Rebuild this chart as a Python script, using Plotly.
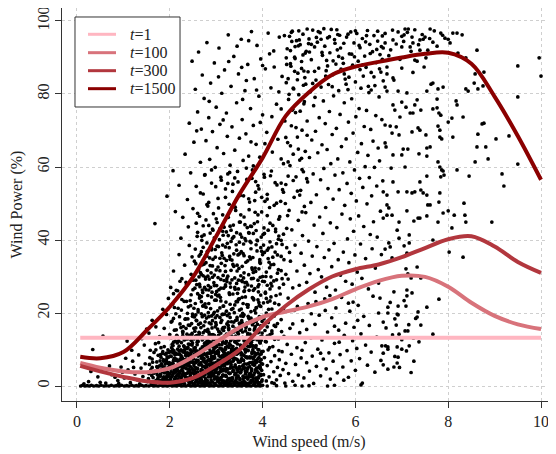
import plotly.graph_objects as go

# wind speed / power observations, typed as "speed,power" pairs, grouped by area of the plot
zero_row = """0.08,0 0.12,0.2 0.17,0 0.22,0.1 0.27,0 0.31,0.2 0.36,0 0.42,0.1 0.47,0 0.52,0.2 0.58,0 0.63,0.1
0.69,0 0.74,0.2 0.8,0 0.85,0.1 0.91,0 0.96,0.2 1.02,0 1.07,0.1 1.12,0 1.18,0.2 1.23,0 1.28,0.1 1.33,0
1.39,0.2 1.44,0 1.49,0.1 1.55,0 1.6,0.2 1.65,0 1.7,0.1 1.75,0 1.8,0.2 1.85,0 1.9,0.1 1.95,0 2.0,0.2
2.05,0 2.1,0.1 2.15,0 2.2,0.2 2.25,0 2.3,0.1 2.35,0 2.4,0.2 2.45,0 2.5,0.1 2.55,0 2.6,0.2 2.65,0
2.7,0.1 2.75,0 2.8,0.2 2.85,0 2.9,0.1 2.95,0 3.0,0.2 3.05,0 3.1,0.1 3.15,0 3.2,0.2 3.25,0 3.3,0.1
3.35,0 3.4,0.2 3.45,0 3.5,0.1 3.55,0 3.6,0.2 3.65,0 3.7,0.1 3.75,0 3.8,0.2 3.85,0 3.9,0.1 3.95,0
4.0,0.2 4.1,0 4.3,0.1 4.5,0 4.7,0.2 4.85,0 5.0,0.1 5.4,0 5.55,0.2 6.12,0.3"""

low_left = """0.34,10 0.56,13.7 1.08,12.3 1.5,15.6 0.25,1.2 0.45,2.5 0.62,0.8 0.75,3.1 0.88,1.5 0.95,5.2
1.02,2.2 1.1,4.4 1.15,0.9 1.2,6.8 1.25,3.3 1.3,1.7 1.33,8.5 1.38,4.9 1.42,2.6 1.45,11.2 1.47,6.1
0.7,5.5 0.82,2.4 1.05,7.6 1.18,9.8 0.3,4 0.15,0.6 0.5,1 1.35,0.6 1.4,13 1.22,5.1 0.98,3.8 0.9,0.7"""

blob_a = """1.52,1.2 1.55,3.4 1.57,7.8 1.6,0.8 1.62,5.1 1.64,2.3 1.66,9.2 1.68,4.0 1.7,1.5 1.72,6.6 1.73,3.1
1.75,8.4 1.77,0.9 1.78,5.5 1.8,2.7 1.81,10.5 1.83,4.6 1.85,1.8 1.86,7.2 1.88,3.6 1.89,0.7 1.9,6.0
1.92,2.2 1.93,9.0 1.95,4.9 1.96,1.1 1.97,7.9 1.98,3.0 1.99,5.8 1.54,2.0 1.59,4.4 1.63,6.5 1.67,1.0
1.71,3.9 1.74,2.0 1.79,6.9 1.82,1.3 1.84,8.9 1.87,5.2 1.91,3.8 1.94,1.6 1.69,11.6 1.58,9.8 1.76,11.9
1.61,2.9 1.65,0.6 1.87,2.5 1.93,6.7 1.77,4.2 1.56,5.9"""

blob_b = """2.01,1.3 2.02,4.7 2.03,8.1 2.04,2.6 2.05,11.4 2.06,0.8 2.07,6.2 2.08,3.5 2.09,9.6 2.1,1.9 2.11,5.1
2.12,12.3 2.13,0.7 2.14,7.4 2.15,2.9 2.16,4.2 2.17,10.1 2.18,1.4 2.19,6.8 2.2,3.7 2.21,8.8 2.22,0.9
2.23,5.6 2.24,2.3 2.25,11.9 2.26,4.5 2.27,7.7 2.28,1.2 2.29,9.3 2.3,3.2 2.31,6.1 2.32,0.6 2.33,12.8
2.34,4.9 2.35,2.0 2.36,8.4 2.37,5.7 2.38,1.5 2.39,10.6 2.4,3.9 2.41,7.0 2.42,0.8 2.43,4.3 2.44,9.9
2.45,2.6 2.46,6.5 2.47,1.1 2.48,11.2 2.49,3.6 2.5,8.0 2.02,6.0 2.04,9.4 2.06,3.0 2.08,12.0 2.1,7.6
2.12,2.1 2.14,5.3 2.16,0.9 2.18,8.7 2.2,10.9 2.22,4.0 2.24,6.7 2.26,1.6 2.28,5.0 2.3,11.0 2.32,2.8
2.34,7.3 2.36,3.4 2.38,9.1 2.4,6.0 2.42,2.2 2.44,5.4 2.46,12.5 2.48,4.8 2.05,5.2 2.09,1.0 2.13,9.0
2.17,3.1 2.21,6.3 2.25,2.4 2.29,7.2 2.33,1.5 2.37,10.4 2.41,4.6 2.45,8.6 2.49,1.8 2.03,3.9 2.11,8.6
2.19,12.4 2.27,3.1 2.35,5.9 2.43,7.8"""

blob_c = """2.51,2.1 2.52,5.5 2.53,9.8 2.54,0.7 2.55,13.6 2.56,3.6 2.57,7.1 2.58,1.4 2.59,11.3 2.6,4.8 2.61,8.2
2.62,0.9 2.63,6.0 2.64,14.4 2.65,2.7 2.66,10.1 2.67,4.1 2.68,7.6 2.69,1.2 2.7,12.6 2.71,5.3 2.72,3.0
2.73,9.0 2.74,0.6 2.75,6.6 2.76,13.2 2.77,2.0 2.78,8.5 2.79,4.4 2.8,11.1 2.81,1.5 2.82,7.0 2.83,3.5
2.84,14.8 2.85,5.9 2.86,0.8 2.87,9.6 2.88,2.5 2.89,12.0 2.9,4.7 2.91,7.8 2.92,1.1 2.93,10.7 2.94,3.3
2.95,6.3 2.96,13.9 2.97,0.7 2.98,8.9 2.99,5.0 3.0,2.2 2.51,7.4 2.53,3.2 2.55,10.5 2.57,4.9 2.59,1.8
2.61,12.2 2.63,2.4 2.65,8.8 2.67,0.8 2.69,5.7 2.71,9.9 2.73,2.6 2.75,11.7 2.77,5.0 2.79,1.0 2.81,8.0
2.83,13.4 2.85,3.1 2.87,6.1 2.89,1.7 2.91,4.0 2.93,14.1 2.95,2.9 2.97,9.2 2.99,11.6 2.52,12.9 2.56,6.4
2.6,2.9 2.64,9.4 2.68,4.5 2.72,6.9 2.76,3.9 2.8,0.7 2.84,10.3 2.88,7.2 2.92,5.4 2.96,1.9 2.54,4.2
2.58,8.9 2.62,13.8 2.66,1.6 2.7,3.7 2.74,11.0 2.78,6.2 2.82,12.5 2.86,4.3 2.9,9.1 2.94,7.5 2.98,3.8
2.6,6.8 2.7,8.3 2.8,5.6 2.9,2.8 2.55,1.0 2.75,1.3 2.85,12.1 2.95,10.0"""

blob_d = """3.01,4.6 3.02,8.9 3.03,1.2 3.04,12.7 3.05,3.3 3.06,6.7 3.07,0.8 3.08,10.4 3.09,5.1 3.1,14.5 3.11,2.4
3.12,7.9 3.13,1.0 3.14,11.8 3.15,4.2 3.16,9.3 3.17,0.6 3.18,6.0 3.19,13.1 3.2,2.9 3.21,8.4 3.22,4.8
3.23,1.5 3.24,10.9 3.25,6.5 3.26,3.6 3.27,14.0 3.28,0.9 3.29,7.4 3.3,2.1 3.31,11.2 3.32,5.4 3.33,9.7
3.34,1.3 3.35,12.9 3.36,4.0 3.37,7.0 3.38,0.7 3.39,10.0 3.4,3.1 3.41,5.8 3.42,13.7 3.43,1.8 3.44,8.7
3.45,4.5 3.46,11.5 3.47,2.6 3.48,6.9 3.49,0.8 3.5,9.5 3.01,10.8 3.03,6.2 3.05,13.9 3.07,3.8 3.09,8.0
3.11,1.7 3.13,5.6 3.15,12.0 3.17,2.8 3.19,9.0 3.21,4.1 3.23,7.6 3.25,0.7 3.27,10.6 3.29,3.4 3.31,6.4
3.33,14.6 3.35,2.0 3.37,8.8 3.39,5.2 3.41,1.1 3.43,11.9 3.45,7.3 3.47,3.9 3.49,12.6 3.02,2.5 3.06,11.4
3.1,6.9 3.14,3.0 3.18,9.9 3.22,12.2 3.26,1.9 3.3,8.1 3.34,5.0 3.38,13.2 3.42,3.5 3.46,9.8 3.5,5.3
3.04,7.1 3.08,2.0 3.12,10.2 3.16,4.7 3.2,11.7 3.24,6.1 3.28,8.9 3.32,1.6 3.36,10.8 3.4,7.5 3.44,2.3
3.48,4.6 3.1,4.4 3.2,6.8 3.3,4.9 3.4,9.0 3.05,1.4 3.25,13.5 3.35,7.8 3.45,0.9"""

blob_e = """3.51,2.0 3.52,6.6 3.53,11.0 3.54,0.8 3.55,4.4 3.56,8.5 3.57,13.3 3.58,2.7 3.59,7.0 3.6,1.3 3.61,10.2
3.62,5.0 3.63,3.3 3.64,12.1 3.65,0.7 3.66,8.0 3.67,4.6 3.68,1.9 3.69,9.7 3.7,6.2 3.71,13.9 3.72,2.5
3.73,7.7 3.74,0.9 3.75,11.4 3.76,4.1 3.77,8.9 3.78,1.5 3.79,5.9 3.8,12.8 3.81,3.0 3.82,9.2 3.83,0.6
3.84,6.8 3.85,10.6 3.86,2.2 3.87,4.9 3.88,13.0 3.89,1.0 3.9,7.5 3.91,3.6 3.92,9.9 3.93,5.5 3.94,0.8
3.95,11.8 3.96,2.9 3.97,7.2 3.98,4.3 3.99,1.7 3.52,3.6 3.54,9.1 3.56,1.1 3.58,5.7 3.6,12.4 3.62,2.3
3.64,7.9 3.66,4.0 3.68,10.9 3.7,0.8 3.72,5.3 3.74,3.4 3.76,12.0 3.78,6.5 3.8,2.1 3.82,8.0 3.84,4.4
3.86,11.1 3.88,1.6 3.9,5.0 3.92,2.7 3.94,8.6 3.96,13.5 3.98,6.1 3.55,7.5 3.63,9.3 3.71,3.0 3.79,10.0
3.87,7.0 3.95,4.8 3.57,0.9 3.67,13.1 3.77,2.6 3.85,1.3 3.93,12.4 3.59,4.8 3.73,11.9 3.83,5.9 3.91,0.9"""

blob_f = """1.80,3.2 1.81,7.9 1.82,0.5 1.83,5.6 1.85,9.4 1.86,2.1 1.87,6.8 1.88,1.4 1.9,8.7 1.91,4.3 1.92,0.9
1.93,7.2 1.95,3.8 1.96,9.9 1.97,2.6 1.98,5.1 2.0,1.7 2.01,8.2 2.02,4.9 2.03,0.4 2.05,6.3 2.06,3.0
2.07,9.1 2.08,1.2 2.1,7.6 2.11,5.4 2.12,2.4 2.13,8.9 2.15,0.7 2.16,4.6 2.17,6.9 2.18,1.9 2.2,9.6
2.21,3.5 2.22,5.9 2.23,0.6 2.25,8.0 2.26,2.8 2.27,7.1 2.28,4.0 2.3,0.8 2.31,6.0 2.32,3.3 2.33,9.2
2.35,1.6 2.36,7.4 2.37,4.7 2.38,2.2 2.4,8.5 2.41,5.7 2.42,1.0 2.43,6.6 2.45,3.6 2.46,9.8 2.47,2.0
2.48,7.8 2.5,4.4 2.51,0.5 2.52,6.1 2.53,8.8 2.55,2.9 2.56,5.0 2.57,1.3 2.58,9.3 2.6,3.9 2.61,7.0
2.62,0.9 2.63,5.8 2.65,8.4 2.66,2.3 2.67,6.4 2.68,1.8 2.7,9.7 2.71,4.2 2.72,7.5 2.73,0.6 2.75,5.3
2.76,3.1 2.77,8.6 2.78,1.5 2.8,6.7 2.81,4.8 2.82,9.0 2.83,2.5 2.85,7.3 2.86,0.8 2.87,5.5 2.88,3.4
2.9,8.1 2.91,1.1 2.92,6.2 2.93,9.5 2.95,2.7 2.96,4.5 2.97,7.7 2.98,0.4 3.0,6.5 3.01,3.7 3.02,9.4
3.03,1.6 3.05,5.2 3.06,8.3 3.07,2.1 3.08,7.0 3.1,0.7 3.11,4.1 3.12,6.0 3.13,9.8 3.15,3.0 3.16,1.4
3.17,7.9 3.18,5.6 3.2,0.9 3.21,8.7 3.22,2.6 3.23,6.3 3.25,4.6 3.26,9.1 3.27,1.9 3.28,7.2 3.3,3.5
3.31,0.5 3.32,5.9 3.33,8.2 3.35,2.3 3.36,6.8 3.37,4.3 3.38,9.6 3.4,1.2 3.41,7.5 3.42,3.1 3.43,5.1
3.45,0.8 3.46,8.9 3.47,2.8 3.48,6.6 3.5,4.9 3.51,1.7 3.52,9.2 3.53,3.8 3.55,7.1 3.56,0.6 3.57,5.4
3.58,2.0 3.6,8.4 3.61,6.1 3.62,1.0 3.63,4.0 3.65,9.9 3.66,2.5 3.67,7.7 3.68,5.0 3.7,0.4 3.71,3.3
3.72,8.0 3.73,6.4 3.75,1.5 3.76,4.7 3.77,9.3 3.78,2.9 3.8,7.4 3.81,0.9 3.82,5.7 3.83,3.6 3.85,8.6
3.86,1.8 3.87,6.5 3.88,4.1 3.9,9.0 3.91,2.2 3.92,7.8 3.93,0.7 3.95,5.2 3.96,3.2 3.97,8.8 3.98,1.3
4.0,6.0 1.84,1.1 1.89,5.0 1.94,2.9 1.99,6.4 2.04,0.9 2.09,4.1 2.14,7.0 2.19,2.7 2.24,5.5 2.29,1.5
2.34,8.4 2.39,3.6 2.44,0.8 2.49,6.6 2.54,2.0 2.59,4.8 2.64,9.1 2.69,3.2 2.74,6.9 2.79,0.5 2.84,4.3
2.89,7.1"""

blob_g = """2.0,9.4 2.03,13.2 2.05,17.8 2.07,11.1 2.1,21.5 2.12,8.6 2.14,15.4 2.17,26.1 2.19,12.3 2.21,19.0
2.24,9.9 2.26,23.7 2.28,14.6 2.31,10.8 2.33,18.3 2.35,28.4 2.38,12.9 2.4,16.7 2.42,8.4 2.45,22.0
2.47,14.0 2.49,19.7 2.52,10.4 2.54,26.8 2.56,15.9 2.59,12.0 2.61,20.9 2.63,9.1 2.66,17.2 2.68,24.5
2.7,13.5 2.73,10.0 2.75,19.4 2.77,29.3 2.8,15.0 2.82,11.7 2.84,22.6 2.87,8.9 2.89,17.0 2.91,25.7
2.94,12.7 2.96,20.2 2.98,10.6 3.01,27.5 3.03,15.6 3.05,9.2 3.08,18.8 3.1,23.3 3.12,11.3 3.15,16.0
3.17,28.9 3.19,13.1 3.22,20.5 3.24,8.7 3.26,17.6 3.29,25.1 3.31,12.4 3.33,10.2 3.36,21.2 3.38,14.8
3.4,27.0 3.43,9.6 3.45,18.1 3.47,12.6 3.5,23.9 3.52,15.3 3.54,8.5 3.57,19.9 3.59,29.6 3.61,11.5
3.64,16.4 3.66,22.3 3.68,9.8 3.71,26.2 3.73,14.2 3.75,18.6 3.78,10.9 3.8,24.0 3.82,13.8 3.85,20.0
3.87,8.8 3.89,16.9 3.92,27.8 3.94,11.9 3.96,21.8 3.99,14.5 4.01,9.5 4.03,18.4 4.06,25.4 4.08,12.1
4.1,16.2 4.13,21.0 4.15,10.5 4.18,28.1 4.2,15.1 4.23,19.3 4.26,12.8 4.29,24.8 4.32,17.1 4.35,9.7
4.38,20.6 4.41,14.9 2.08,25.3 2.22,28.7 2.36,23.2 2.5,29.0 2.64,27.9 2.78,26.4 2.92,29.8 3.06,24.9
3.2,27.7 3.34,29.1 3.48,26.6 3.62,28.3 3.76,29.4 3.9,23.6 4.04,28.6 4.18,24.4 2.15,13.9 2.29,16.3
2.43,11.4 2.57,18.0 2.71,21.9 2.85,14.3 2.99,17.4 3.13,19.6 3.27,15.8 3.41,12.2 3.55,17.9 3.69,19.1
3.83,15.7 3.97,12.5 4.11,23.0 4.25,16.6 2.6,13.0 2.9,19.2 3.2,10.1 3.5,20.8 3.8,17.3 4.1,13.7"""

blob_h = """2.31,12.6 2.33,7.1 2.35,15.8 2.37,10.2 2.39,18.4 2.41,5.6 2.43,13.9 2.45,9.0 2.47,17.1 2.49,11.8
2.52,6.4 2.54,15.0 2.56,19.5 2.58,9.6 2.6,12.3 2.62,16.9 2.64,5.9 2.66,13.3 2.68,19.8 2.7,10.7
2.72,14.6 2.74,7.5 2.76,17.6 2.78,12.0 2.8,8.9 2.82,15.5 2.84,19.0 2.86,10.9 2.88,6.9 2.9,14.0
2.92,17.9 2.94,11.5 2.96,8.1 2.98,16.2 3.0,12.9 3.02,19.3 3.04,9.7 3.06,14.9 3.08,6.3 3.1,17.4
3.12,12.5 3.14,8.4 3.16,15.2 3.18,19.7 3.2,10.5 3.22,14.2 3.24,7.0 3.26,16.6 3.28,11.6 3.3,18.8
3.32,9.2 3.34,13.6 3.36,16.4 3.38,7.7 3.4,12.1 3.42,18.0 3.44,10.3 3.46,14.7 3.48,6.6 3.5,17.2
3.52,11.2 3.54,15.6 3.56,8.7 3.58,19.1 3.6,13.0 3.62,9.9 3.64,16.0 3.66,6.0 3.68,14.4 3.7,18.6
3.72,10.8 3.74,13.8 3.76,7.9 3.78,16.8 3.8,11.0 3.82,15.3 3.84,8.5 3.86,17.7 3.88,12.7 3.9,10.0
3.92,14.8 3.94,6.7 3.96,16.5 3.98,9.4 4.0,13.4 1.72,5.3 1.76,2.7 1.8,8.6 1.84,3.9 1.88,10.8 1.92,1.9
1.96,6.2 2.0,3.4 2.04,10.5 2.08,7.0 2.12,3.8 2.16,11.8 2.2,5.3 2.24,8.4 2.28,1.0 2.32,10.0 2.36,6.4
2.4,11.5 2.44,3.0 2.48,9.5 1.62,7.4 1.66,3.5 1.7,9.9 1.74,5.0 1.78,1.6 1.82,6.1 1.86,4.0 1.9,2.3
1.94,8.0 1.98,9.2 2.02,2.0 2.06,10.0 2.1,4.5 2.14,1.2 2.18,5.8 2.22,7.4 2.26,9.6 2.3,5.4 2.34,2.5
2.38,6.9"""

mid_low = """1.55,14.5 1.62,18 1.7,16.2 1.78,13.5 1.85,21 1.88,15.8 1.93,19.6 1.97,24 2.0,14.1 2.03,17.5 2.06,22.4
2.1,15.3 2.13,19.8 2.16,13.6 2.19,24.6 2.22,17 2.25,20.8 2.28,15 2.31,23.2 2.34,18.4 2.37,14.2 2.4,21.7
2.43,16.6 2.46,25 2.49,19.1 2.52,15.8 2.55,22.6 2.58,17.9 2.61,20.3 2.64,24.1 2.67,16 2.7,19 2.73,22
2.76,15.2 2.79,18.6 2.82,24.8 2.85,17.3 2.88,21.2 2.91,15.9 2.94,19.7 2.97,23.5 3.0,16.8 3.03,20.6
3.06,14.9 3.09,24.3 3.12,18 3.15,21.9 3.18,16.1 3.21,23 3.24,19.3 3.27,15.4 3.3,22.4 3.33,17.6 3.36,25.2
3.39,20.1 3.42,15.7 3.45,18.8 3.48,23.8 3.51,16.9 3.54,21.1 3.57,14.8 3.6,19.5 3.63,24.4 3.66,17.2
3.69,22.2 3.72,15.5 3.75,20.4 3.78,18 3.81,23.6 3.84,16.3 3.87,21.5 3.9,14.6 3.93,19 3.96,24.9 3.99,17.7
4.02,22.8 4.05,15.2 4.08,20 4.12,17.4 4.16,23.3 4.2,14.4 4.25,19.2 2.08,18.5 2.18,21.3 2.28,13.8
2.38,19.9 2.48,14.4 2.58,13.8 2.68,23.1 2.78,21.6 2.88,13.9 2.98,18.7 3.08,21.4 3.18,13.7 3.28,19.8
3.38,17.5 3.48,14.3 3.58,22.6 3.68,13.9 3.78,24.2 3.88,18.2 3.98,13.5 2.53,18.9 2.63,14.7 2.73,16.5
2.83,20.1 2.93,13.4 3.03,24.7 3.13,15.6 3.23,17 3.33,21 3.43,23.1 3.53,19.2 3.63,15.1 3.73,17.9
3.83,20.7 3.93,22.1 2.24,16 2.44,23.4 2.72,13.2 3.14,19.6 3.56,17.3"""

mid = """2.02,27 2.08,31.5 2.14,26.2 2.2,36 2.26,29.4 2.32,33.1 2.36,27.8 2.42,38.5 2.46,30.6 2.5,26.4 2.53,34.2
2.56,29 2.59,41 2.62,31.9 2.65,27.2 2.68,36.8 2.71,25.6 2.74,33.4 2.77,29.8 2.8,39.2 2.83,27.5 2.86,35.1
2.89,31 2.92,43 2.95,28.3 2.98,37.4 3.01,25.9 3.04,32.6 3.07,40.1 3.1,29.2 3.13,35.8 3.16,26.8 3.19,33
3.22,42.2 3.25,30.1 3.28,37.9 3.31,27.1 3.34,34.5 3.37,44.1 3.4,29.6 3.43,38.7 3.46,25.4 3.49,32.2
3.52,41.6 3.55,28.9 3.58,36.3 3.61,26.1 3.64,33.9 3.67,43.4 3.7,30.5 3.73,39.6 3.76,27.4 3.79,35.2
3.82,44.5 3.85,31.4 3.88,37 3.91,25.8 3.94,34 3.97,40.8 4.0,28.7 4.04,36.6 4.08,31.2 4.12,42.7 4.16,26.6
4.2,38.1 4.24,33.3 4.3,29.1 4.35,41.1 4.4,35.5 4.45,27.9 2.55,37.5 2.6,25.3 2.66,31.1 2.72,43.9
2.78,33.8 2.84,26.3 2.9,37.7 2.96,30.4 3.02,44.8 3.08,35 3.14,38.6 3.2,27.3 3.26,41.2 3.32,31.7
3.38,36.2 3.44,28.1 3.5,39.4 3.56,32.8 3.62,44.2 3.68,27.7 3.74,34.8 3.8,29.5 3.86,42.6 3.92,32.1
3.98,36.9 4.06,25.7 4.14,33.9 4.22,44 4.32,30.9 4.42,38.8 2.63,29.9 2.69,39.9 2.75,27 2.81,31.7
2.87,41.9 2.93,34.7 2.99,25.1 3.05,38.2 3.11,33.6 3.17,43.5 3.23,28.6 3.29,35.5 3.35,40.5 3.41,26.5
3.47,35.9 3.53,30.2 3.59,38.9 3.65,28.4 3.71,41.9 3.77,32.4 3.83,26.7 3.89,39.8 3.95,29.8 4.03,43.3
4.1,37.2 4.18,29.9 4.27,36.7 4.38,25.2 2.24,40.5 2.4,43.6 2.48,35.4 2.57,44.6 2.7,33.2 2.85,29.3
3.0,31.8 3.15,30.3 3.3,43.8 3.45,33.1 3.6,35.7 3.75,37.6 3.9,27.2"""

mid_b = """2.6,47.3 2.63,35.6 2.66,52.9 2.69,41.0 2.72,30.2 2.75,57.8 2.78,45.5 2.81,36.9 2.84,50.3 2.87,33.0
2.9,59.2 2.93,42.7 2.96,27.5 2.99,54.6 3.02,38.3 3.05,48.8 3.08,31.6 3.11,56.4 3.14,44.1 3.17,35.0
3.2,51.7 3.23,29.4 3.26,46.2 3.29,58.5 3.32,39.6 3.35,53.3 3.38,32.8 3.41,49.0 3.44,42.0 3.47,55.9
3.5,36.2 3.53,46.9 3.56,28.6 3.59,52.1 3.62,40.4 3.65,59.7 3.68,34.3 3.71,48.3 3.74,43.8 3.77,56.9
3.8,31.1 3.83,50.8 3.86,38.7 3.89,45.0 3.92,54.0 3.95,33.6 3.98,47.7 4.01,41.5 4.04,57.2 4.07,30.0
4.1,52.5 4.13,37.8 4.16,44.6 4.19,58.9 4.22,35.3 4.25,49.5 4.28,42.3 4.31,55.1 4.34,31.9 4.37,46.4
4.4,39.9 4.43,53.8 4.46,34.6 4.49,50.0 4.52,43.2 4.55,57.5 4.58,36.6 2.7,26.3 2.8,49.7 2.9,37.3
3.0,45.8 3.1,26.8 3.2,38.1 3.3,34.7 3.4,57.0 3.5,44.9 3.6,25.9 3.7,51.3 3.8,41.8 3.9,29.0 4.0,36.0
4.1,46.7 4.2,27.4 4.3,39.0 4.4,55.6 4.5,30.6 3.15,41.3 3.45,31.5 3.75,39.3 4.05,50.6 4.35,45.7
3.25,55.5 3.55,40.8 3.85,53.1 4.15,32.4 4.45,41.6"""

mid_c = """2.52,21.3 2.56,33.5 2.6,42.1 2.64,24.8 2.68,30.6 2.72,38.0 2.76,22.5 2.8,35.6 2.84,44.0 2.88,27.0
2.92,32.9 2.96,40.6 3.0,23.5 3.04,29.7 3.08,43.1 3.12,36.5 3.16,21.9 3.2,31.4 3.24,39.1 3.28,25.5
3.32,42.7 3.36,33.3 3.4,22.2 3.44,37.2 3.48,29.0 3.52,44.9 3.56,24.3 3.6,31.0 3.64,39.8 3.68,21.6
3.72,35.4 3.76,43.7 3.8,26.2 3.84,32.3 3.88,40.0 3.92,22.9 3.96,37.9 4.0,30.0 4.04,41.8 4.08,24.0
4.12,34.9 4.16,39.5 4.2,21.1 4.24,28.8 4.28,43.0 4.32,35.9 4.36,26.9 4.4,31.6 2.58,27.8 2.66,36.1
2.74,41.4 2.82,30.1 2.9,24.4 2.98,35.3 3.06,26.4 3.14,42.4 3.22,34.4 3.3,28.2 3.38,40.9 3.46,23.1
3.54,36.8 3.62,27.1 3.7,42.0 3.78,31.9 3.86,21.4 3.94,34.6 4.02,38.6 4.1,27.6 4.18,33.2 4.26,22.7
4.34,40.2 4.42,29.4"""

upper_left = """1.68,44.5 1.94,52 2.07,59 2.12,47.8 2.2,55 2.28,46.2 2.33,63.5 2.38,51.1 2.42,72 2.45,58.4 2.48,89
2.5,48.6 2.52,66.8 2.55,81.3 2.57,54.7 2.6,75.1 2.62,91.5 2.64,46.5 2.66,61.3 2.68,70.4 2.7,85.2
2.72,52.6 2.74,78.8 2.76,57.9 2.78,67.2 2.8,94.1 2.82,49.3 2.84,73.5 2.86,62.1 2.88,83 2.9,55.6
2.92,69.7 2.94,47.2 2.96,88.5 2.98,59.9 3.0,76.4 3.02,65.3 3.04,51.4 3.06,92.6 3.08,71.7 3.1,57.2
3.12,80.2 3.14,46.9 3.16,63.7 3.18,86.6 3.2,54 3.22,74.8 3.24,68.4 3.26,96.2 3.28,49.8 3.3,60.5
3.32,82.1 3.34,71 3.36,55.3 3.38,90.3 3.4,64.6 3.42,48.1 3.44,77.6 3.46,58.8 3.48,85.5 3.5,67.9
3.52,52.2 3.54,95 3.56,73 3.58,61.8 3.6,46.3 3.62,80.9 3.64,69.1 3.66,56.6 3.68,88.1 3.7,63 3.72,50.4
3.74,76 3.76,97.1 3.78,59.2 3.8,71.4 3.82,84.2 3.84,47.6 3.86,66.2 3.88,93.3 3.9,54.9 3.92,79.4
3.94,62.7 3.96,89.6 3.98,51.7 4.0,74.3 4.03,58 4.06,86.9 4.09,69.5 4.12,96.7 4.15,48.9 4.18,81.7
4.21,64.1 4.24,91.8 4.27,55.7 4.3,77.2 4.33,67.6 4.36,95.6 4.39,50.6 4.42,84.8 4.45,60.9 4.48,72.6
4.51,89.9 4.54,46.7 4.57,79.9 4.6,65.8 4.63,94.4 4.66,56.3 4.69,86.2 4.72,70.8 4.75,53.4 4.78,97.3
4.81,75.3 4.84,62.4 4.87,90.7 4.9,49.2 4.93,82.7 4.96,68.7 4.99,93.8 2.58,69.9 2.85,78 3.05,84.7
3.25,58.1 3.45,93.1 3.65,83.7 3.85,56 4.05,66.4 4.25,87.4 4.45,53.1 4.65,75.8 4.85,59.3 3.15,72.9
3.35,49.1 3.55,87.3 3.75,66.9 3.95,72.2 4.15,91 4.35,80.6 4.55,61.4 4.75,83.9 4.95,56.8 3.27,88.9
3.57,78.5 3.87,81.1 4.17,57.6 4.47,96 4.77,64.9 4.2,73.8 4.4,62.2 4.6,88.3 4.8,52.3 4.1,51.2 4.5,68.1
4.9,77.9 3.7,94.6 3.9,46.9 4.3,50.1 4.7,93 3.8,60.3 4.0,87.8 4.4,75.9 4.85,47.7"""

low_right = """4.02,3.1 4.04,7.8 4.06,12.2 4.08,1.4 4.1,5.6 4.12,9.9 4.14,2.5 4.16,14.1 4.18,6.7 4.2,0.9 4.22,10.8
4.24,3.9 4.26,8.3 4.28,16.3 4.3,1.7 4.32,5.1 4.34,12.9 4.36,7.2 4.38,2.9 4.4,18.2 4.42,9.4 4.44,4.5
4.46,13.6 4.48,0.8 4.5,6.2 4.53,11.4 4.56,3.4 4.59,15.8 4.62,8.7 4.65,1.3 4.68,20.7 4.71,5.9 4.74,10.5
4.77,3 4.8,14.6 4.83,7.7 4.86,17.9 4.89,2.2 4.92,11.9 4.95,6.4 4.98,22.6 5.01,4.1 5.04,13.2 5.07,8.2
5.1,0.7 5.13,16.9 5.16,5.4 5.19,10.1 5.22,19.4 5.25,2.8 5.28,12.6 5.31,7.4 5.34,23.9 5.37,4.7 5.4,14.8
5.43,9.1 5.46,1.9 5.49,18.7 5.52,6.8 5.55,11.7 5.58,21.4 5.61,3.6 5.64,15.3 5.67,8.6 5.7,24.3 5.73,5.2
5.76,13.9 5.79,17.2 5.82,9.7 5.85,2.4 5.88,20.5 5.91,6.9 5.94,12.4 5.97,16.1 6.0,4.3 6.03,10.3 6.06,22.1
6.09,7.5 6.12,14.3 6.15,0.8 6.18,19.1 6.22,11.2 6.26,5.7 6.3,16.6 6.34,9.3 6.38,24.6 6.42,3.8 6.46,13.4
6.5,20 6.55,7 6.6,17.5 6.65,11 6.7,4.6 6.75,22.9 6.8,14 6.85,8.1 6.9,19.7 6.95,5.1 7.0,12.7 7.05,23.4
7.1,9.6 7.15,16.8 7.2,3.7 7.25,13.1 7.3,18.5 4.15,19.5 4.35,22.3 4.55,24.1 4.75,21.8 4.95,15.5
5.15,23.1 5.35,20.7 5.55,16.4 5.75,1.6 5.95,23 4.25,0.7 4.45,21.2 4.65,17 4.85,9.8 5.05,19.8 5.25,9
5.45,24.8 5.65,12 5.85,22.7 6.05,18"""

upper_mid = """4.50,55.2 4.51,83.1 4.52,37.9 4.53,92.4 4.54,66.7 4.55,29.3 4.56,78.5 4.57,48.1 4.58,95.8 4.59,60.4
4.60,34.2 4.61,87.6 4.62,71.3 4.63,42.8 4.64,97.2 4.65,26.9 4.66,63.5 4.67,81.4 4.68,51.7 4.69,90.1
4.70,38.6 4.71,74.9 4.72,57.3 4.73,94.6 4.74,31.5 4.75,68.2 4.76,85.7 4.77,45.4 4.78,79.8 4.79,27.6
4.80,61.9 4.81,93.5 4.82,53.6 4.83,36.4 4.84,88.9 4.85,70.1 4.86,41.2 4.87,96.4 4.88,58.7 4.89,77.3
4.90,33.1 4.91,84.5 4.92,64.3 4.93,47.5 4.94,91.7 4.95,28.4 4.96,72.6 4.97,55.9 4.98,86.1 4.99,39.7
5.00,95.1 5.01,62.6 5.02,30.8 5.03,80.6 5.04,50.3 5.05,89.4 5.06,67.4 5.07,35.6 5.08,97.5 5.09,58.1
5.10,76.8 5.11,44.1 5.12,92.9 5.13,25.7 5.14,69.8 5.15,83.8 5.16,52.4 5.17,38.2 5.18,94.2 5.19,63.9
5.20,31.9 5.21,87.1 5.22,73.5 5.23,46.3 5.24,96.8 5.25,56.5 5.26,81.9 5.27,29.9 5.28,66.1 5.29,90.6
5.30,41.8 5.31,78.1 5.32,59.6 5.33,35.2 5.34,93.1 5.35,71.9 5.36,48.9 5.37,86.4 5.38,27.1 5.39,64.8
5.40,95.4 5.41,54.1 5.42,82.6 5.43,37.3 5.44,75.2 5.45,91.3 5.46,44.7 5.47,60.9 5.48,97.7 5.49,32.7
5.50,68.9 5.51,85.3 5.52,51.2 5.53,79.5 5.54,39.1 5.55,94.9 5.56,57.8 5.57,26.3 5.58,88.2 5.59,70.6
5.60,43.4 5.61,92.1 5.62,62.2 5.63,34.6 5.64,80.9 5.65,53.8 5.66,96.1 5.67,74.4 5.68,30.4 5.69,86.8
5.70,65.6 5.71,47.1 5.72,89.8 5.73,58.4 5.74,36.7 5.75,93.9 5.76,77.6 5.77,49.5 5.78,84.1 5.79,28.7
5.80,67.7 5.81,95.6 5.82,55.5 5.83,40.3 5.84,81.2 5.85,72.3 5.86,33.8 5.87,91.0 5.88,61.4 5.89,45.8
5.90,97.0 5.91,52.8 5.92,78.7 5.93,27.9 5.94,87.9 5.95,69.3 5.96,42.4 5.97,94.0 5.98,59.2 5.99,35.9
6.00,83.3 6.01,73.8 6.02,50.7 6.03,96.6 6.04,31.2 6.05,64.0 6.06,89.0 6.07,46.6 6.08,76.0 6.09,56.9
6.10,92.7 6.11,38.9 6.12,81.6 6.13,66.4 6.14,29.5 6.15,95.2 6.16,54.4 6.17,84.9 6.18,43.7 6.19,71.1
6.20,90.4 6.21,60.1 6.22,34.9 6.23,87.3 6.24,75.5 6.25,49.9 6.26,97.4 6.27,63.2 6.28,26.6 6.29,80.4
6.30,57.1 6.31,93.6 6.32,41.5 6.33,70.3 6.34,85.9 6.35,52.1 6.36,37.6 6.37,91.6 6.38,67.1 6.39,45.0
6.40,96.0 6.41,59.9 6.42,82.3 6.43,32.3 6.44,74.1 6.45,88.6 6.46,54.8 6.47,40.8 6.48,94.5 6.49,65.2
6.50,28.2 6.51,79.2 6.52,61.7 6.53,90.8 6.54,47.9 6.55,86.0 6.56,36.0 6.57,73.0 6.58,95.9 6.59,56.2
6.60,83.6 4.52,88.1 4.64,75.6 4.77,93.2 4.89,86.3 5.01,91.5 5.13,79.1 5.26,95.0 5.38,89.2 5.50,82.0
5.62,96.3 5.74,88.4 5.86,84.6 5.98,90.2 6.10,86.7 6.22,94.3 6.34,81.1 6.46,92.2 6.58,89.5"""

upper_band = """4.55,84.2 4.62,96.9 4.7,89.7 4.79,94.8 4.88,82.4 4.96,97.8 5.05,93.6 5.12,86.2 5.2,97.1 5.28,91.4
5.36,84.9 5.44,95.7 5.52,89.1 5.6,97.6 5.68,92.6 5.76,85.5 5.84,96.4 5.92,90.9 6.0,97.3 6.08,93.3
6.16,88.0 6.24,96.0 6.32,91.1 6.4,84.7 6.48,97.2 6.56,93.0 6.64,96.6 6.72,90.5 6.8,97.5 6.88,93.7
6.96,89.5 7.04,94.4 7.12,96.9 7.2,91.7 7.28,97.6 7.36,93.5 7.44,96.3 7.52,89.9 7.6,95.2 7.7,97.3
7.76,93.1 7.88,96.1 4.6,91.9 4.84,87.0 5.08,82.9 5.32,97.9 5.56,93.9 5.8,82.7 6.04,87.6 6.28,82.1
6.52,86.9 6.76,92.1 7.0,95.8 7.24,85.9 7.48,87.4 4.66,81.6 4.92,91.2 5.16,95.5 5.4,87.7 5.64,90.3"""

right_side = """6.92,97 7.07,97.8 7.14,97.8 7.05,96.2 7.22,95.6 7.39,94.8 7.46,95 7.5,95.6 7.61,97.8 7.84,96.7
7.93,95.3 8.0,95 8.04,94 8.1,96.7 8.19,96.7 8.3,96.2 7.67,94.2 6.81,94.8 6.64,94 6.6,92.6 7.0,92.9
7.18,92.9 7.24,94 7.39,92 7.56,92 8.21,91.2 8.62,92 8.38,89.9 7.28,89.3 7.33,89 7.0,87.1 6.68,87.4
6.68,85.5 6.81,84.4 6.83,83.8 8.58,85.5 8.77,86 9.5,87.7 9.96,89.9 10.0,84.9 7.63,82.7 7.67,83
7.54,80.8 7.78,81.4 7.89,81.9 6.64,81.9 6.68,80.8 6.92,80.8 7.11,80.3 8.38,81.4 8.43,80.8 8.64,81.4
8.56,83 8.75,82.2 9.5,79.2 7.76,78.6 8.17,78.1 8.19,77 6.81,77 6.85,75.6 7.0,77.8 7.09,76.4 7.33,78.4
7.28,77 7.41,75.6 7.67,75.9 7.76,76.2 7.8,74.8 7.84,74.2 7.18,74.8 7.24,74.8 6.96,73.7 8.08,73.4
8.0,72.3 8.32,73.7 6.64,71.5 6.75,71.2 6.88,71 7.35,70.7 7.39,70.1 7.78,71.2 7.82,70.1 8.73,71.8
8.77,72 6.79,69.3 6.94,68.8 7.22,69.6 7.52,68.8 7.61,65.5 7.54,65.2 7.82,68.2 7.86,67.7 8.1,68.2
8.64,69 9.03,67.7 9.31,68.5 6.64,66.6 6.66,65.5 6.81,63.3 7.0,63.3 7.03,64.9 7.13,64.9 7.37,63.6
7.54,63 8.62,65.5 8.81,65.5 8.86,62.2 7.07,60 6.77,59.7 7.78,61.4 7.82,60 7.86,59.2 7.89,58.9 7.91,57.8
8.19,59.2 8.58,61.4 9.5,60.8 8.45,57.5 9.16,58.1 9.2,54.8 7.54,57.5 7.39,55.9 6.81,55.9 7.84,57.3
7.82,52.9 6.92,53.2 7.11,53.2 7.22,52.9 7.28,53.2 7.41,53.7 7.46,52.9 7.54,52.3 6.68,52.3 6.6,53.2
6.68,49.6 6.72,48.8 6.79,46.8 6.68,46.8 6.6,46 7.11,48 7.56,49.6 7.61,49.6 7.8,50.4 7.89,47.4 8.0,48
8.13,46.8 8.34,50.1 8.36,46.8 8.38,44.9 8.94,44.9 6.94,44.9 6.9,42.7 7.26,45.2 7.35,46 7.39,46
7.54,46.6 7.78,44.9 8.08,43.3 6.94,40.5 7.16,41.4 7.16,39.2 7.05,38.4 6.72,39.2 6.75,38.1 6.64,37.5
7.67,40 8.02,36.7 8.32,35.3 7.11,36.4 6.79,35.1 7.09,32.1 7.33,32.6 7.13,30.7 7.2,29.6 7.41,29.6
6.83,25.8 7.11,26.3 7.22,25.5 7.11,24.7 6.53,24.1 7.8,23.8 6.7,21.6 6.92,21.9 7.09,21.9 7.54,21.6
6.7,20 6.92,19.5 6.85,18.4 7.35,20.3 7.33,18.9 6.88,16.7 6.66,15.9 7.41,16.7 6.94,14.2 7.07,15.1
7.13,15.1 7.67,14.2 6.57,11 6.7,10.7 6.7,10.1 6.9,10.7 7.0,10.1 7.16,11 7.37,12.1 6.6,9 6.92,7.9
6.9,6.3 6.83,5.2 6.6,5.8 7.26,6.8"""

# fitted curves
curve_speed = [0.07, 0.5, 1.0, 1.5, 2.0, 2.5, 3.0, 3.5, 4.0, 4.5, 5.0, 5.5, 6.0, 6.5, 7.0, 7.5, 8.0, 8.5, 9.0, 9.5, 10.0]
power_t1 = [13.2, 13.2, 13.2, 13.2, 13.2, 13.2, 13.2, 13.2, 13.2, 13.2, 13.2, 13.2, 13.2, 13.2, 13.2, 13.2, 13.2, 13.2, 13.2, 13.2, 13.2]
power_t100 = [6.3, 5.0, 4.0, 3.8, 4.9, 8.0, 12.0, 16.0, 18.9, 20.4, 21.8, 23.8, 26.5, 28.8, 30.2, 29.9, 27.2, 22.8, 19.2, 16.9, 15.6]
power_t300 = [5.5, 4.0, 2.5, 1.3, 0.9, 2.2, 5.7, 9.9, 16.5, 22.0, 26.5, 30.0, 32.0, 33.3, 35.3, 37.8, 40.2, 41.0, 38.2, 34.0, 31.0]
power_t1500 = [8.0, 7.6, 9.3, 15.2, 21.7, 29.8, 41.0, 52.5, 62.5, 74.0, 80.5, 85.3, 87.5, 88.8, 90.0, 91.0, 91.3, 88.3, 79.3, 68.5, 56.5]

curve_names = ["<i>t</i>=1", "<i>t</i>=100", "<i>t</i>=300", "<i>t</i>=1500"]
curve_colors = ["#FFB6C1", "#D8737B", "#B2373E", "#8B0000"]


def parse(block):
    xs, ys = [], []
    for tok in block.split():
        a, b = tok.split(",")
        xs.append(float(a))
        ys.append(float(b))
    return xs, ys


wind_speed, wind_power = [], []
for block in [zero_row, low_left, blob_a, blob_b, blob_c, blob_d, blob_e, blob_f, blob_g, blob_h,
              mid_low, mid, mid_b, mid_c, upper_left, low_right, upper_mid, upper_band, right_side]:
    xs, ys = parse(block)
    wind_speed += xs
    wind_power += ys

serif = "Liberation Serif"
ink = "#222"

fig = go.Figure()
fig.add_trace(go.Scatter(x=wind_speed, y=wind_power, mode="markers",
                         marker=dict(size=3.7, color="black"), showlegend=False, hoverinfo="skip"))

for name, col, vals in zip(curve_names, curve_colors, [power_t1, power_t100, power_t300, power_t1500]):
    fig.add_trace(go.Scatter(x=curve_speed, y=vals, mode="lines", name=name, showlegend=False,
                             line=dict(color=col, width=4, shape="spline", smoothing=1.0)))

# legend drawn by hand (R-style box with short line samples)
fig.add_shape(type="rect", xref="paper", yref="paper", x0=0.0263, x1=0.2389, y0=0.7481, y1=0.9771,
              fillcolor="white", line=dict(color="#333", width=1), layer="above")
legend_rows = [0.9331, 0.8863, 0.8405, 0.7947]
for name, col, yy in zip(curve_names, curve_colors, legend_rows):
    fig.add_shape(type="line", xref="paper", yref="paper", x0=0.0526, x1=0.1093, y0=yy, y1=yy,
                  line=dict(color=col, width=3), layer="above")
    fig.add_annotation(xref="paper", yref="paper", x=0.1336, y=yy, xanchor="left", yanchor="middle",
                       text=name, showarrow=False, font=dict(family=serif, size=16, color=ink))

axis_common = dict(showline=True, linecolor="#333", linewidth=1, ticks="outside", ticklen=6,
                   tickcolor="#333", showgrid=True, gridcolor="#cfcfcf", griddash="dot", gridwidth=1,
                   zeroline=False, automargin=False, ticklabeloverflow="allow",
                   tickfont=dict(family=serif, size=16, color=ink))

fig.update_xaxes(range=[-0.323, 10.323], tickvals=[0, 2, 4, 6, 8, 10], mirror=True,
                 title=dict(text="Wind speed (m/s)", font=dict(family=serif, size=16, color=ink), standoff=6),
                 **axis_common)
fig.update_yaxes(range=[-4.11, 103.56], tickvals=[0, 20, 40, 60, 80, 100], tickangle=-90,
                 title=dict(text="Wind Power (%)", font=dict(family=serif, size=16, color=ink), standoff=8),
                 **axis_common)

# the page adds an 8px body margin, so the figure is sized to end at the window edge
fig.update_layout(
    template="none",
    width=548, height=446,
    margin=dict(l=54, r=0, t=0, b=53, pad=0),
    plot_bgcolor="white", paper_bgcolor="white",
    font=dict(family=serif, size=16, color=ink),
    showlegend=False,
)

fig.write_html("out.html")
